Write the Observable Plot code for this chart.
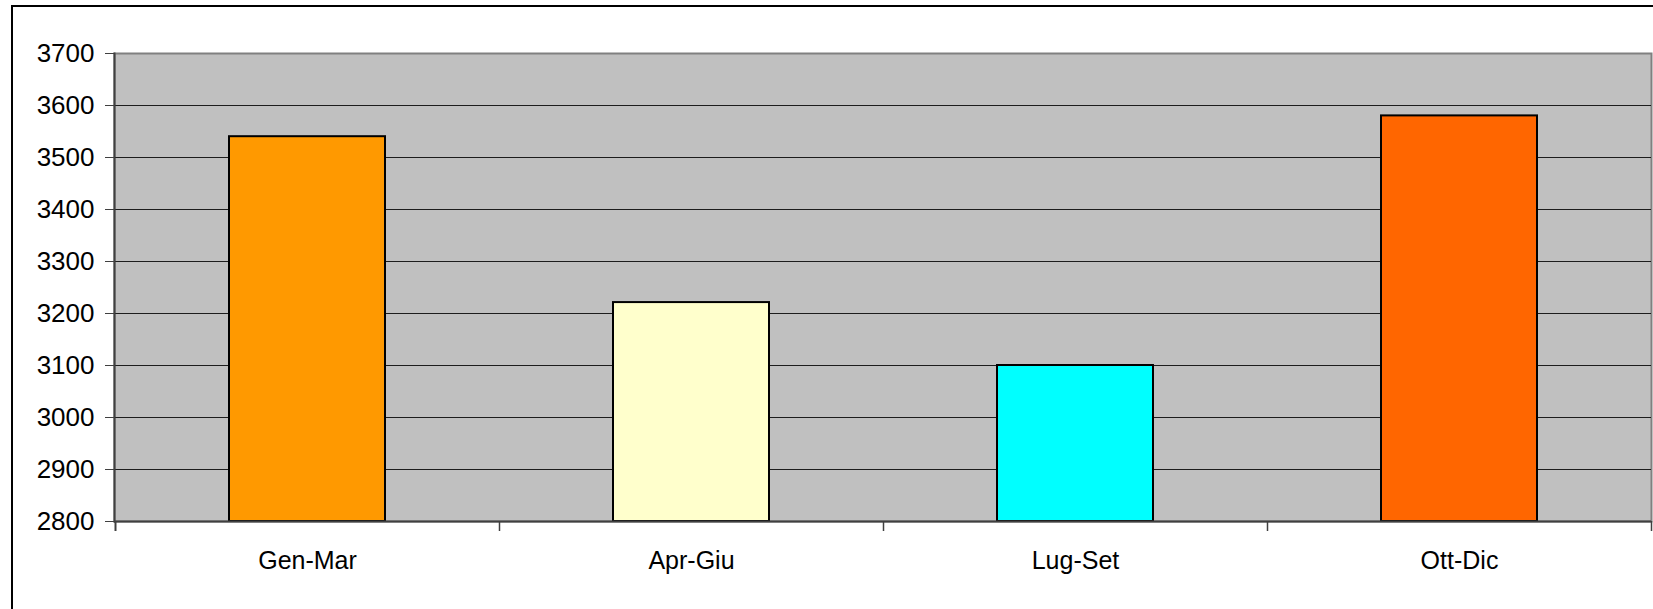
<!DOCTYPE html>
<html>
<head>
<meta charset="utf-8">
<script src="https://cdn.jsdelivr.net/npm/d3@7"></script>
<script src="https://cdn.jsdelivr.net/npm/@observablehq/plot@0.6"></script>
<style>
  html, body { margin: 0; padding: 0; background: #fff; overflow: hidden; }
  #wrap { position: relative; width: 1653px; height: 609px; overflow: hidden; }
  #border { position: absolute; left: 11px; top: 5px; width: 1700px; height: 700px;
            border: 2px solid #000; pointer-events: none; box-sizing: border-box; }
  svg { display: block; font-family: "Liberation Sans", Arial, sans-serif; }
</style>
</head>
<body>
<div id="wrap"><div id="chart"></div><div id="border"></div></div>
<script>
const categories = ["Gen-Mar", "Apr-Giu", "Lug-Set", "Ott-Dic"];
const values = [3540, 3221, 3100, 3580];
const colors = ["#FF9900", "#FFFFCC", "#00FFFF", "#FF6600"];
const yTicks = [2800, 2900, 3000, 3100, 3200, 3300, 3400, 3500, 3600, 3700];
const yMin = 2800, yMax = 3700;

const data = categories.map((c, i) => ({cat: c, value: values[i], color: colors[i]}));

const chart = Plot.plot({
  width: 1653,
  height: 609,
  marginLeft: 114,
  marginRight: 2,
  marginTop: 53,
  marginBottom: 88,
  style: {fontFamily: "'Liberation Sans', Arial, sans-serif", background: "transparent", color: "#000"},
  x: {domain: categories, paddingInner: 0.594, paddingOuter: 0.297, label: null},
  y: {domain: [yMin, yMax], label: null},
  marks: [
    Plot.frame({fill: "#C0C0C0", stroke: "#808080", strokeWidth: 2}),
    Plot.gridY(yTicks.slice(1, -1), {stroke: "#000", strokeOpacity: 0.85, strokeWidth: 1}),
    Plot.barY(data, {x: "cat", y1: yMin, y2: "value", fill: "color", stroke: "#000", strokeWidth: 2}),
    Plot.ruleY([yMin], {stroke: "#404040", strokeWidth: 2}),
    Plot.frame({anchor: "left", stroke: "#404040", strokeWidth: 2}),
    Plot.axisY(yTicks, {tickSize: 9, tickPadding: 11, fontSize: 26, tickFormat: d => String(d), stroke: "#404040", label: null}),
    Plot.axisX(categories, {tickSize: 0, tickPadding: 30, fontSize: 25, label: null}),
    Plot.axisX(categories, {tickSize: 10, dx: 192, tickFormat: () => "", stroke: "#404040", strokeWidth: 1.5, label: null}),
    Plot.axisX([categories[0]], {tickSize: 10, dx: -192, tickFormat: () => "", stroke: "#404040", strokeWidth: 2, label: null})
  ]
});
document.getElementById("chart").appendChild(chart);
</script>
</body>
</html>
